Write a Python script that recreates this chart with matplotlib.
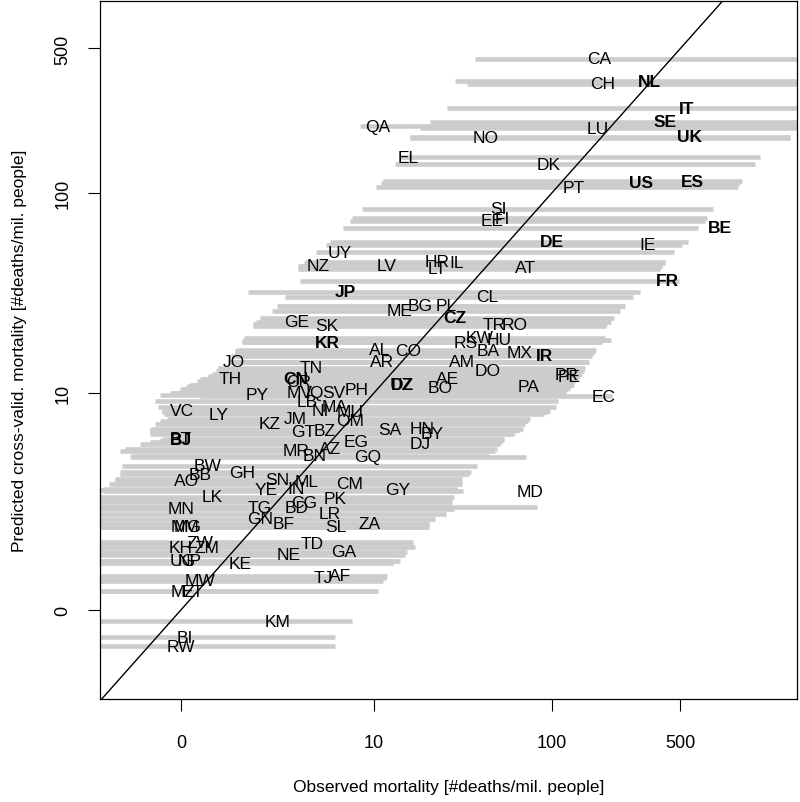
import numpy as np
import matplotlib
matplotlib.use("Agg")
import matplotlib.pyplot as plt

codes = ["CA","CH","NL","IT","SE","UK","LU","NO","DK","PT","US","ES","QA","EL","SI","EE","FI","BE","IE","FR",
         "EC","DE","AT","LV","HR","LT","IL","CL","ME","BG","PL","CZ","TR","RO","RS","KW","HU","BA","MX","IR",
         "AL","AR","CO","AM","DO","AE","BO","DZ","UZ","PA","PR","PE","PH","SV","EG","GQ","SA","HN","BY","DJ",
         "CM","GY","ZA","GA","AF","TJ","MD","UY","NZ","JP","GE","SK","KR","JO","TH","PY","TN","CN","CR","MV",
         "IQ","LB","VC","LY","KZ","JM","NI","MA","MU","OM","GT","BZ","MR","BN","AZ","BJ","BT","BW","BB","AO",
         "GH","LK","YE","SN","ML","IN","TG","GN","BD","CG","PK","LR","SL","BF","MN","MG","MM","ZW","ZM","KH",
         "UG","NP","KE","NE","TD","MW","MZ","ET","BI","RW","KM"]

observed = [181,190,338,543,412,563,177,43.6,96,131,306,578,10.6,16.0,50.8,47,53.4,819,330,424,
            191,100.7,71.5,11.9,23.2,23.2,30.1,44.4,14.1,18.6,26.2,29.4,48.3,62.4,33.4,40.3,51.4,45.0,66.9,91,
            10.9,11.2,16.0,32.1,44.4,26.6,24.1,14.7,14.5,74.7,120,124,7.9,5.7,7.9,9.2,12.5,19.1,21.9,18.6,
            7.2,13.9,9.5,6.6,6.2,4.9,76.5,6.2,4.5,6.7,3.2,5.1,5.2,0.92,0.85,1.58,4.05,3.15,3.35,3.4,
            4.27,3.8,0.01,0.59,2.03,3.15,4.64,5.8,7.2,7.2,3.6,5.0,3.2,4.27,5.4,0.0,0.0,0.39,0.27,0.07,
            1.13,0.47,1.9,2.3,3.8,3.2,1.67,1.67,3.2,3.65,5.85,5.4,5.85,2.6,0.0,0.09,0.05,0.27,0.39,0.0,
            0.02,0.12,1.08,2.8,4.1,0.27,0.02,0.15,0.05,0.0,2.34]

predicted = [445,337,348,258,221,187,206,185,138,107,112,114,211,149,83.7,73.2,75.6,67.7,55.9,37.2,
             9.67,57.8,43.1,44.1,46.1,42.6,45.6,31.0,26.4,28.0,28.0,24.4,22.7,22.7,18.4,19.3,18.9,16.6,16.2,15.7,
             16.8,14.6,16.6,14.6,13.1,11.9,10.7,11.1,11.1,10.9,12.6,12.3,10.5,10.1,5.43,4.44,6.34,6.42,6.03,5.29,
             3.04,2.78,1.6,0.90,0.46,0.43,2.73,51.6,44.1,32.8,23.3,22.2,18.4,14.6,11.9,9.8,13.6,11.9,11.6,10.1,
             10.1,9.1,8.05,7.75,6.84,7.28,8.05,8.5,7.95,7.1,6.2,6.3,4.81,4.5,4.94,5.57,5.64,3.93,3.5,3.2,
             3.6,2.5,2.78,3.26,3.16,2.82,2.12,1.74,2.12,2.3,2.42,1.9,1.51,1.6,2.06,1.51,1.51,1.12,1.0,1.0,
             0.72,0.72,0.68,0.84,1.08,0.38,0.23,0.23,-0.26,-0.33,-0.12]

interval_lo = [37.8,34.2,29.3,26.4,21.2,16.3,18.6,16.3,13.3,10.4,11.1,11.3,8.3,14.0,8.5,7.2,7.4,6.5,5.1,3.4,
               0.27,5.4,3.3,3.4,3.7,3.3,3.6,2.65,2.1,2.3,2.35,1.67,1.5,1.46,1.13,1.2,1.16,0.97,0.95,0.87,
               1.0,0.8,0.97,0.82,0.55,0.3,0.05,0.12,0.15,0.08,0.47,0.4,-0.01,-0.13,-0.32,-0.47,-0.32,-0.3,-0.32,-0.4,
               -0.59,-0.62,-0.9,-0.9,-0.9,-0.9,-0.62,4.4,3.3,1.3,1.55,1.46,1.13,0.82,0.27,-0.23,0.59,0.32,0.22,-0.1,
               -0.1,-0.28,-0.21,-0.19,-0.28,-0.16,-0.21,-0.25,-0.21,-0.23,-0.32,-0.32,-0.53,-0.46,-0.5,-0.23,-0.2,-0.52,-0.53,-0.56,
               -0.53,-0.9,-0.9,-0.56,-0.56,-0.62,-0.9,-0.9,-0.9,-0.9,-0.9,-0.9,-0.9,-0.9,-0.9,-0.9,-0.9,-0.9,-0.9,-0.9,
               -0.9,-0.9,-0.9,-0.9,-0.9,-0.9,-0.9,-0.9,-0.9,-0.9,-0.9]

interval_hi = [3000,3000,3000,3000,3000,1958,3000,1958,1270,1020,1050,1080,2500,1348,750,680,696,623,510,490,
               213,550,387,395,415,387,410,278,235,250,248,217,200,197,188,195,210,172,170,166,
               175,158,172,160,150,139,126,132,130,128,147,143,123,120,53.5,72,67,70,62,52,
               32,30,21,15.7,12,11.8,32.5,460,395,302,210,197,183,158,139,114,152,138,134,120,
               118,108,96,91,71,76,98,105,94,74,63,65,49,45,50,55,55,39,35,32,
               36,29,30,32,31,30,27.5,22.6,83,28,28,26,20.6,21,29,21,19.5,17,17.5,16.3,
               14.3,13.3,13,15.3,17,11.3,10.3,10.6,5.8,5.8,7.4]

bold_codes = ["NL","IT","SE","UK","US","ES","BE","FR","DE","JP","CZ","KR","CN","IR","DZ","BJ"]

tick_values = [0, 10, 100, 500]
tick_labels = ["0", "10", "100", "500"]

fwd = lambda v: np.log10(1.0 + np.asarray(v, dtype=float))
inv = lambda u: 10.0 ** np.asarray(u, dtype=float) - 1.0

plt.rcParams['font.family'] = ['Liberation Sans', 'DejaVu Sans']

fig = plt.figure(figsize=(8.0, 8.03), dpi=100)
ax = fig.add_axes([0.125, 0.1283, 0.87125, 0.8692])
ax.set_xscale('function', functions=(fwd, inv))
ax.set_yscale('function', functions=(fwd, inv))

ax.hlines(predicted, interval_lo, interval_hi, colors='#cccccc', linewidth=3.3, zorder=1)
ax.plot([-0.95, 5000], [-0.95, 5000], color='black', linewidth=1.0, zorder=2)

for c, xo, yp in zip(codes, observed, predicted):
    ax.text(xo, yp, c, ha='center', va='center', fontsize=12.5,
            fontweight='bold' if c in bold_codes else 'normal', zorder=3)

ax.set_xlim(-0.635, 2137)
ax.set_ylim(-0.627, 846)
ax.set_xticks(tick_values)
ax.set_xticklabels(tick_labels)
ax.set_yticks(tick_values)
ax.set_yticklabels(tick_labels, rotation=90, va='center')
ax.minorticks_off()
ax.tick_params(axis='both', direction='out', length=8.5, width=0.8, labelsize=13)
ax.tick_params(axis='x', pad=17)
ax.tick_params(axis='y', pad=12)
for s in ax.spines.values():
    s.set_linewidth(0.9)

ax.set_xlabel("Observed mortality [#deaths/mil. people]", fontsize=12.5, labelpad=20)
ax.set_ylabel("Predicted cross-valid. mortality [#deaths/mil. people]", fontsize=12.5, labelpad=20)

fig.savefig("out.png", dpi=100)
